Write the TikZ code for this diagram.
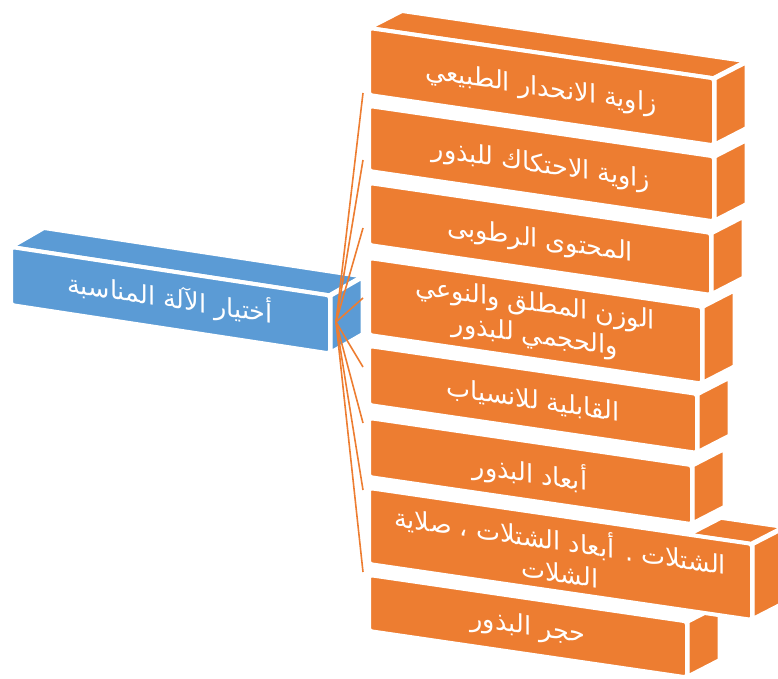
\documentclass[tikz,border=0pt]{standalone}
\usepackage{fontspec}
\TeXXeTstate=1
\newfontfamily\arabicfont[Script=Arabic]{DejaVu Sans}
\definecolor{orng}{HTML}{ED7D31}
\definecolor{blu}{HTML}{5B9BD5}
\newcommand\facebox[6]{% L R T H colour slope
  \pgfmathsetmacro\myTR{#3+#6*(#2-#1)}
  \pgfmathsetmacro\myBR{\myTR+#4}
  \pgfmathsetmacro\myBL{#3+#4}
  \fill[#5, draw=white, line width=5] (#2,\myTR) -- ++(\ddx,\ddy) -- ++(0,#4) -- (#2,\myBR) -- cycle;
  \fill[#5, draw=white, line width=4, rounded corners=3] (#1,#3) -- (#2,\myTR) -- (#2,\myBR) -- (#1,\myBL) -- cycle;
}
\newcommand\topface[5]{% L R T colour slope
  \pgfmathsetmacro\myTR{#3+#5*(#2-#1)}
  \fill[#4, draw=white, line width=4] (#1,#3) -- ++(\ddx,\ddy) -- (#2+\ddx,\myTR+\ddy) -- (#2,\myTR) -- cycle;
}
\begin{document}
\begin{tikzpicture}[x=1pt,y=-1pt,
  lbl/.style={text=white, font=\arabicfont\fontsize{25.5}{32}\selectfont, align=center, transform shape, inner sep=0pt},
  link/.style={draw=orng, line width=1.6}]
\useasboundingbox (0,0) rectangle (778,679);
\clip (0,0) rectangle (778,679);
\def\ddx{33}\def\ddy{-17}
% orange boxes, bottom to top
\facebox{369}{687}{575}{56}{orng}{0.146}
\topface{688}{752}{534.8}{orng}{0.146}
\facebox{369}{752}{488}{76}{orng}{0.146}
\facebox{369}{692}{418}{59}{orng}{0.146}
\facebox{369}{697}{346}{59}{orng}{0.146}
\facebox{369}{702}{258}{77}{orng}{0.146}
\facebox{369}{711}{183}{62}{orng}{0.146}
\facebox{369}{714}{106}{65}{orng}{0.146}
\topface{369}{714}{28}{orng}{0.146}
\facebox{369}{714}{28}{67}{orng}{0.146}
% blue box
\def\ddx{33}\def\ddy{-19}
\topface{11}{330}{247}{blu}{0.152}
\facebox{11}{330}{247}{58}{blu}{0.152}
% texts
\begin{scope}[shift={(541,89)},yslant=-0.146]\node[lbl] (t1) at (0,0) {\beginR زاوية الانحدار الطبيعي\endR};\end{scope}
\begin{scope}[shift={(541,166)},yslant=-0.146]\node[lbl] (t2) at (0,0) {\beginR زاوية الاحتكاك للبذور\endR};\end{scope}
\begin{scope}[shift={(540,241)},yslant=-0.146]\node[lbl] (t3) at (0,0) {\beginR المحتوى الرطوبى\endR};\end{scope}
\begin{scope}[shift={(535,321)},yslant=-0.146]\node[lbl] (t4) at (0,0) {\beginR الوزن المطلق والنوعي\endR\\\beginR والحجمي للبذور\endR};\end{scope}
\begin{scope}[shift={(533,401)},yslant=-0.146]\node[lbl] (t5) at (0,0) {\beginR القابلية للانسياب\endR};\end{scope}
\begin{scope}[shift={(530,473)},yslant=-0.146]\node[lbl] (t6) at (0,0) {\beginR أبعاد البذور\endR};\end{scope}
\begin{scope}[shift={(560,554)},yslant=-0.146]\node[lbl] (t7) at (0,0) {\beginR الشتلات . أبعاد الشتلات ، صلاية\endR\\\beginR الشلات\endR};\end{scope}
\begin{scope}[shift={(528,628)},yslant=-0.146]\node[lbl] (t8) at (0,0) {\beginR حجر البذور\endR};\end{scope}
\begin{scope}[shift={(170,298)},yslant=-0.152]\node[lbl] (t0) at (0,0) {\beginR أختيار الآلة المناسبة\endR};\end{scope}
% connectors
\coordinate (hub) at (336,322);
\coordinate (e1) at (363,93);
\coordinate (e2) at (363,160);
\coordinate (e3) at (363,228);
\coordinate (e4) at (363,298);
\coordinate (e5) at (363,367);
\coordinate (e6) at (363,423);
\coordinate (e7) at (363,490);
\coordinate (e8) at (363,572);
\foreach \k in {1,...,8} {\draw[link] (hub) -- (e\k);}
\end{tikzpicture}
\end{document}
